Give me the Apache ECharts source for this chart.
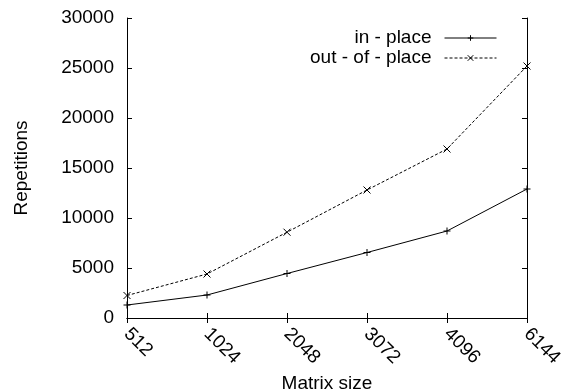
<!DOCTYPE html>
<html>
<head>
<meta charset="utf-8">
<script src="https://cdn.jsdelivr.net/npm/echarts@6/dist/echarts.min.js"></script>
<style>
html,body{margin:0;padding:0;background:#fff;}
#c{width:563px;height:389px;}
</style>
</head>
<body>
<div id="c"></div>
<script>
const categories = ['512', '1024', '2048', '3072', '4096', '6144'];
const inPlace = [1300, 2300, 4450, 6550, 8700, 12900];
const outOfPlace = [2250, 4400, 8580, 12800, 16900, 25200];
const yTicks = { min: 0, max: 30000, interval: 5000 };
const seriesNames = ['in - place', 'out - of - place'];

const FONT = 'Liberation Sans, Arial, Helvetica, sans-serif';
const FS = 19;
const chart = echarts.init(document.getElementById('c'), null, { renderer: 'canvas' });
const plusPath = 'path://M0,5L10,5M5,0L5,10';
const crossPath = 'path://M0,0L10,10M10,0L0,10';

const axisCommon = {
  axisLine: { show: true, lineStyle: { color: '#000', width: 1 } },
  axisTick: { show: true, inside: true, length: 5, lineStyle: { color: '#000', width: 1 } },
  splitLine: { show: false }
};

chart.setOption({
  animation: false,
  backgroundColor: '#fff',
  textStyle: { fontFamily: FONT },
  grid: { left: 127, right: 36, top: 18, bottom: 71, containLabel: false, outerBoundsMode: 'none' },
  legend: {
    orient: 'vertical',
    right: 61,
    top: 23,
    align: 'right',
    itemWidth: 52,
    itemHeight: 7,
    itemGap: 0,
    data: seriesNames,
    lineStyle: { width: 1 },
    itemStyle: { borderWidth: 1 },
    textStyle: { fontFamily: FONT, fontSize: FS, color: '#000', lineHeight: 20, padding: [0, 8, 0, 0] }
  },
  xAxis: [
    Object.assign({}, axisCommon, {
      type: 'category',
      data: categories,
      boundaryGap: false,
      position: 'bottom',
      name: 'Matrix size',
      nameLocation: 'middle',
      nameGap: 53,
      nameTextStyle: { fontFamily: FONT, fontSize: FS, color: '#000' },
      axisLabel: { rotate: -45, margin: 13, fontFamily: FONT, fontSize: FS, color: '#000' }
    }),
    Object.assign({}, axisCommon, {
      type: 'category',
      data: categories,
      boundaryGap: false,
      position: 'top',
      axisLabel: { show: false }
    })
  ],
  yAxis: [
    Object.assign({}, axisCommon, {
      type: 'value',
      min: yTicks.min, max: yTicks.max, interval: yTicks.interval,
      position: 'left',
      name: 'Repetitions',
      nameLocation: 'middle',
      nameGap: 96,
      nameRotate: 90,
      nameTextStyle: { fontFamily: FONT, fontSize: FS, color: '#000' },
      axisLabel: { margin: 13, fontFamily: FONT, fontSize: FS, color: '#000', formatter: v => String(v) }
    }),
    Object.assign({}, axisCommon, {
      type: 'value',
      min: yTicks.min, max: yTicks.max, interval: yTicks.interval,
      position: 'right',
      axisLabel: { show: false }
    })
  ],
  series: [
    {
      name: seriesNames[0],
      type: 'line',
      data: inPlace,
      symbol: plusPath,
      symbolSize: 7,
      showSymbol: true,
      color: '#000',
      lineStyle: { color: '#000', width: 1, type: 'solid' },
      itemStyle: { color: '#000', borderColor: '#000', borderWidth: 1 }
    },
    {
      name: seriesNames[1],
      type: 'line',
      data: outOfPlace,
      symbol: crossPath,
      symbolSize: 7,
      showSymbol: true,
      color: '#000',
      lineStyle: { color: '#000', width: 1, type: [3, 2] },
      itemStyle: { color: '#000', borderColor: '#000', borderWidth: 1 }
    }
  ]
});
</script>
</body>
</html>
